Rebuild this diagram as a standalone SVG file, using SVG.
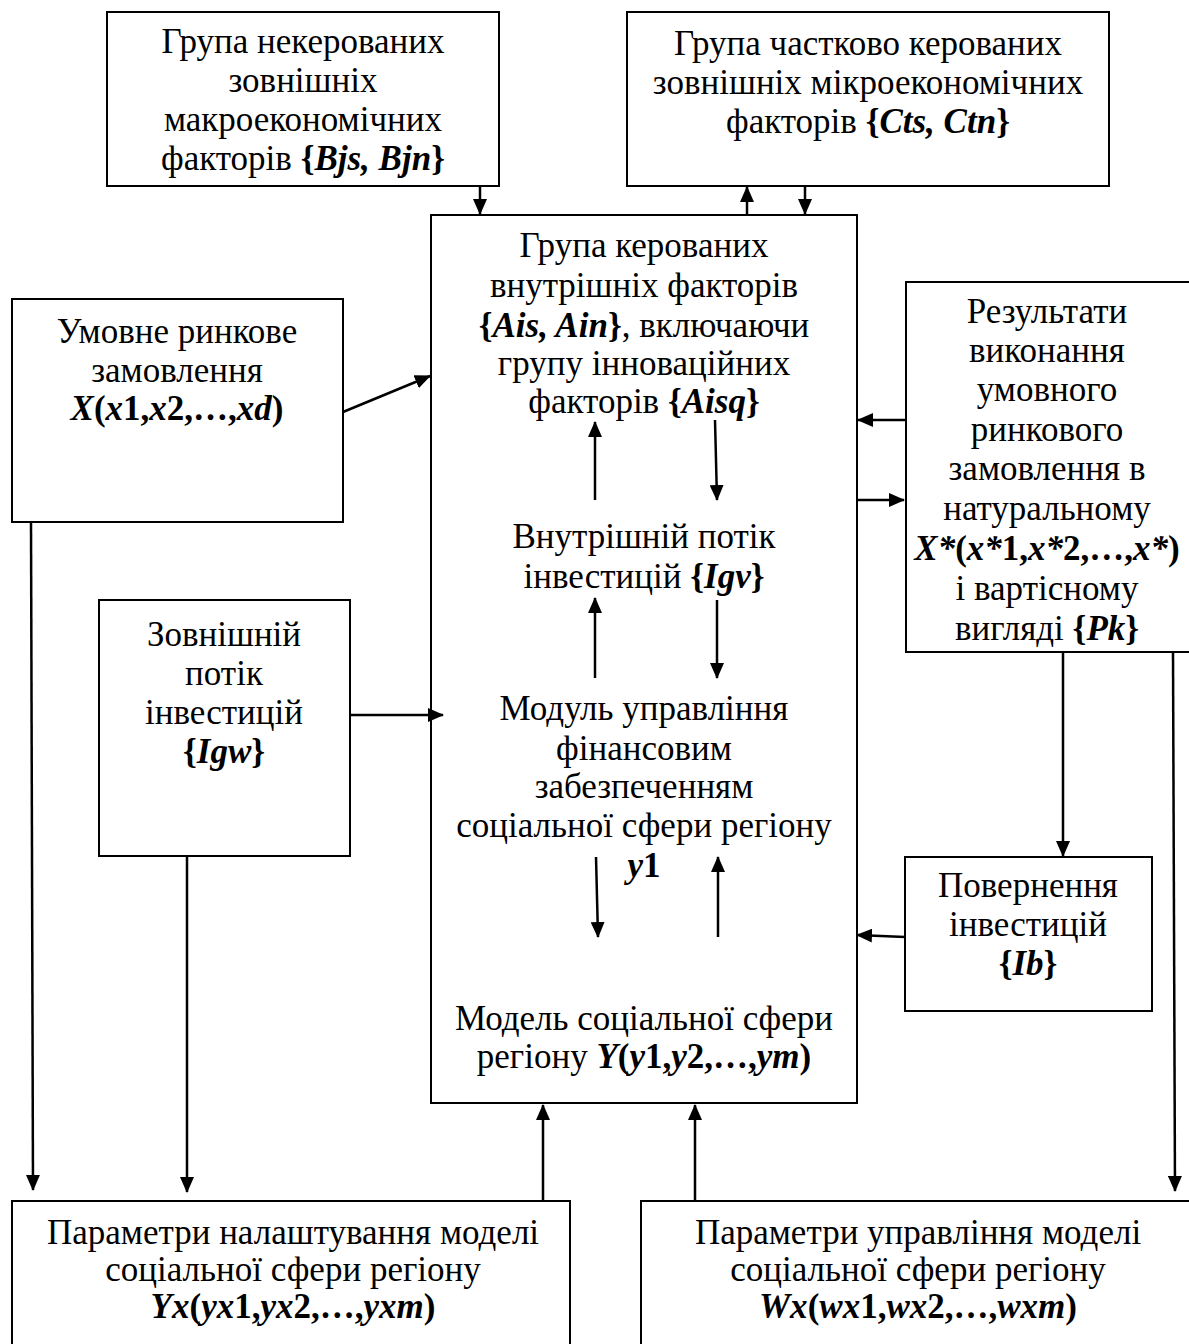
<svg xmlns="http://www.w3.org/2000/svg" width="1189" height="1344" viewBox="0 0 1189 1344">
<style>
.box{fill:#fff;stroke:#000;stroke-width:2}
.t{font-family:"Liberation Serif","DejaVu Serif",serif;font-size:35px;fill:#000;text-anchor:middle}
.b{font-weight:bold}
.bi{font-weight:bold;font-style:italic}
.c{stroke:#000;stroke-width:2.5;fill:none;marker-end:url(#ah)}
</style>
<defs>
<marker id="ah" markerUnits="userSpaceOnUse" markerWidth="16" markerHeight="14" viewBox="0 0 16 14" refX="15" refY="7" orient="auto">
<path d="M0,0 L16,7 L0,14 Z" fill="#000"/>
</marker>
</defs>
<g id="n-macro">
<rect class="box" x="107" y="12" width="392" height="174"/>
<text class="t" x="303" y="53">Група некерованих</text>
<text class="t" x="303" y="92">зовнішніх</text>
<text class="t" x="303" y="131">макроекономічних</text>
<text class="t" x="303" y="170">факторів <tspan class="b">{</tspan><tspan class="bi">Bjs, Bjn</tspan><tspan class="b">}</tspan></text>
</g>
<g id="n-micro">
<rect class="box" x="627" y="12" width="482" height="174"/>
<text class="t" x="868" y="55">Група частково керованих</text>
<text class="t" x="868" y="94">зовнішніх мікроекономічних</text>
<text class="t" x="868" y="133">факторів <tspan class="b">{</tspan><tspan class="bi">Cts, Ctn</tspan><tspan class="b">}</tspan></text>
</g>
<g id="n-main">
<rect class="box" x="431" y="215" width="426" height="888"/>
<text class="t" x="644" y="257">Група керованих</text>
<text class="t" x="644" y="297">внутрішніх факторів</text>
<text class="t" x="644" y="337"><tspan class="b">{</tspan><tspan class="bi">Ais, Ain</tspan><tspan class="b">}</tspan>, включаючи</text>
<text class="t" x="644" y="375">групу інноваційних</text>
<text class="t" x="644" y="413">факторів <tspan class="b">{</tspan><tspan class="bi">Aisq</tspan><tspan class="b">}</tspan></text>
<text class="t" x="644" y="548">Внутрішній потік</text>
<text class="t" x="644" y="588">інвестицій <tspan class="b">{</tspan><tspan class="bi">Igv</tspan><tspan class="b">}</tspan></text>
<text class="t" x="644" y="720">Модуль управління</text>
<text class="t" x="644" y="760">фінансовим</text>
<text class="t" x="644" y="798">забезпеченням</text>
<text class="t" x="644" y="837">соціальної сфери регіону</text>
<text class="t" x="644" y="877"><tspan class="bi">y</tspan><tspan class="b">1</tspan></text>
<text class="t" x="644" y="1030">Модель соціальної сфери</text>
<text class="t" x="644" y="1068">регіону <tspan class="bi">Y</tspan><tspan class="b">(</tspan><tspan class="bi">y</tspan><tspan class="b">1,</tspan><tspan class="bi">y</tspan><tspan class="b">2,…,</tspan><tspan class="bi">ym</tspan><tspan class="b">)</tspan></text>
</g>
<g id="n-order">
<rect class="box" x="12" y="299" width="331" height="223"/>
<text class="t" x="177" y="343">Умовне ринкове</text>
<text class="t" x="177" y="382">замовлення</text>
<text class="t" x="177" y="420"><tspan class="bi">X</tspan><tspan class="b">(</tspan><tspan class="bi">x</tspan><tspan class="b">1,</tspan><tspan class="bi">x</tspan><tspan class="b">2,…,</tspan><tspan class="bi">xd</tspan><tspan class="b">)</tspan></text>
</g>
<g id="n-results">
<rect class="box" x="906" y="282" width="290" height="370"/>
<text class="t" x="1047" y="323">Результати</text>
<text class="t" x="1047" y="362">виконання</text>
<text class="t" x="1047" y="401">умовного</text>
<text class="t" x="1047" y="441">ринкового</text>
<text class="t" x="1047" y="480">замовлення  в</text>
<text class="t" x="1047" y="520">натуральному</text>
<text class="t" x="1047" y="560"><tspan class="bi">X*</tspan><tspan class="b">(</tspan><tspan class="bi">x*</tspan><tspan class="b">1,</tspan><tspan class="bi">x*</tspan><tspan class="b">2,…,</tspan><tspan class="bi">x*</tspan><tspan class="b">)</tspan></text>
<text class="t" x="1047" y="600">і вартісному</text>
<text class="t" x="1047" y="640">вигляді <tspan class="b">{</tspan><tspan class="bi">Pk</tspan><tspan class="b">}</tspan></text>
</g>
<g id="n-extflow">
<rect class="box" x="99" y="600" width="251" height="256"/>
<text class="t" x="224" y="646">Зовнішній</text>
<text class="t" x="224" y="685">потік</text>
<text class="t" x="224" y="724">інвестицій</text>
<text class="t" x="224" y="763"><tspan class="b">{</tspan><tspan class="bi">Igw</tspan><tspan class="b">}</tspan></text>
</g>
<g id="n-return">
<rect class="box" x="905" y="857" width="247" height="154"/>
<text class="t" x="1028" y="897">Повернення</text>
<text class="t" x="1028" y="936">інвестицій</text>
<text class="t" x="1028" y="975"><tspan class="b">{</tspan><tspan class="bi">Ib</tspan><tspan class="b">}</tspan></text>
</g>
<g id="n-tuning">
<rect class="box" x="12" y="1201" width="558" height="160"/>
<text class="t" x="293" y="1244">Параметри налаштування моделі</text>
<text class="t" x="293" y="1281">соціальної сфери регіону</text>
<text class="t" x="293" y="1318"><tspan class="bi">Yx</tspan><tspan class="b">(</tspan><tspan class="bi">yx</tspan><tspan class="b">1,</tspan><tspan class="bi">yx</tspan><tspan class="b">2,…,</tspan><tspan class="bi">yxm</tspan><tspan class="b">)</tspan></text>
</g>
<g id="n-control">
<rect class="box" x="641" y="1201" width="560" height="160"/>
<text class="t" x="918" y="1244">Параметри управління моделі</text>
<text class="t" x="918" y="1281">соціальної сфери регіону</text>
<text class="t" x="918" y="1318"><tspan class="bi">Wx</tspan><tspan class="b">(</tspan><tspan class="bi">wx</tspan><tspan class="b">1,</tspan><tspan class="bi">wx</tspan><tspan class="b">2,…,</tspan><tspan class="bi">wxm</tspan><tspan class="b">)</tspan></text>
</g>
<g id="connectors">
<line class="c" x1="480" y1="186" x2="480" y2="214"/>
<line class="c" x1="747" y1="215" x2="747" y2="187"/>
<line class="c" x1="805" y1="186" x2="805" y2="214"/>
<line class="c" x1="343" y1="412" x2="430" y2="376"/>
<line class="c" x1="905" y1="420" x2="858" y2="420"/>
<line class="c" x1="857" y1="500" x2="904" y2="500"/>
<line class="c" x1="595" y1="500" x2="595" y2="422"/>
<line class="c" x1="715" y1="420" x2="717" y2="500"/>
<line class="c" x1="595" y1="678" x2="595" y2="598"/>
<line class="c" x1="717" y1="600" x2="717" y2="678"/>
<line class="c" x1="350" y1="715" x2="443" y2="715"/>
<line class="c" x1="596" y1="857" x2="598" y2="937"/>
<line class="c" x1="718" y1="937" x2="718" y2="857"/>
<line class="c" x1="905" y1="937" x2="857" y2="935"/>
<line class="c" x1="1063" y1="652" x2="1063" y2="856"/>
<line class="c" x1="1173" y1="652" x2="1175" y2="1191"/>
<line class="c" x1="31" y1="522" x2="33" y2="1190"/>
<line class="c" x1="187" y1="856" x2="187" y2="1192"/>
<line class="c" x1="543" y1="1201" x2="543" y2="1105"/>
<line class="c" x1="695" y1="1201" x2="695" y2="1105"/>
</g>
</svg>
